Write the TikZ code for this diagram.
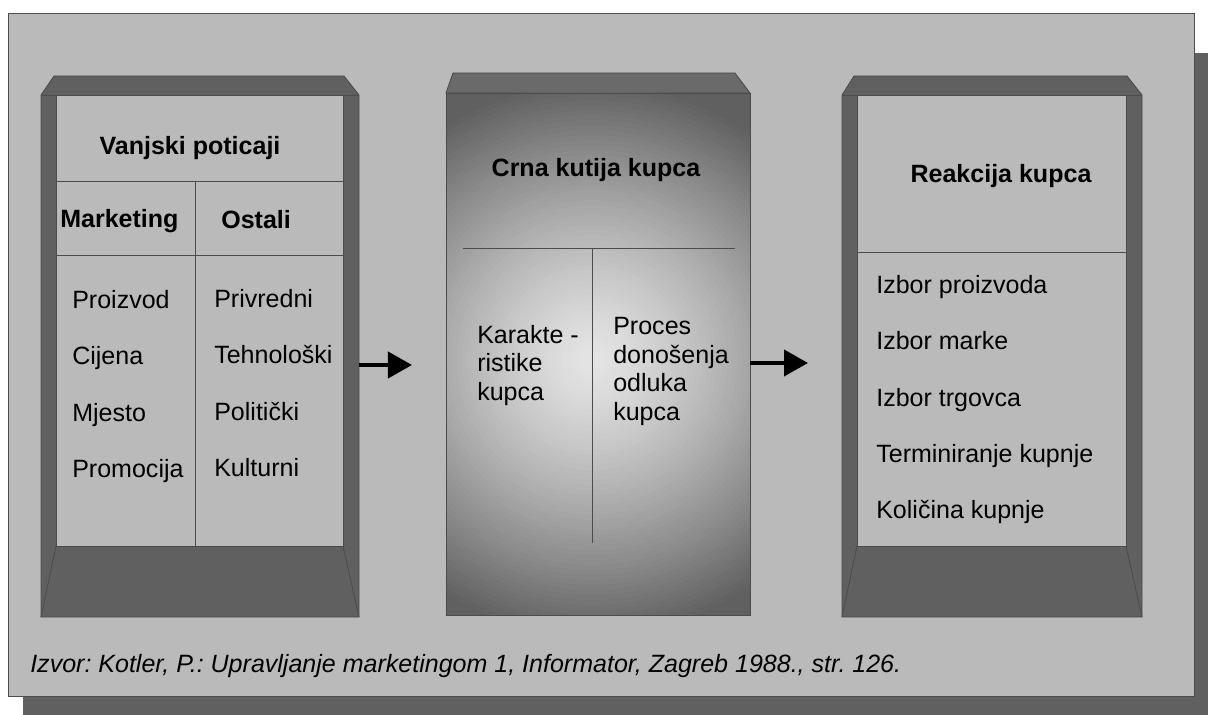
\documentclass[tikz,border=0pt]{standalone}
\usepackage{fontspec}
\setmainfont{Liberation Sans}
\usetikzlibrary{arrows.meta}
\definecolor{pozadina}{HTML}{BABABA}
\definecolor{okvir}{HTML}{606060}
\definecolor{linija}{HTML}{4C4C4C}
\definecolor{svijetla}{HTML}{E8E8E8}
\frenchspacing

\begin{document}
\begin{tikzpicture}[x=0.025cm, y=-0.025cm,
    tekst/.style={font=\fontsize{17.8}{20.3}\selectfont, inner sep=0pt},
    naslov/.style={tekst, font=\bfseries\fontsize{17.8}{20.3}\selectfont},
    stavka/.style={tekst, anchor=base west},
    crta/.style={draw=linija, line width=0.6pt},
    strelica/.style={line width=0.1cm, -{Triangle[length=0.6cm, width=0.65cm]}}]
    \useasboundingbox (0,0) rectangle (1208,715);
    \fill[white] (0,0) rectangle (1208,715);

    % Sjena i ploca
    \fill[okvir] (23,53) rectangle (1208,715);
    \filldraw[fill=pozadina, crta] (8,13) rectangle (1194,696);

    % Vanjski poticaji
    \filldraw[fill=okvir, crta] (54,76) -- (344,76) -- (359,95) -- (359,617) -- (41,617) -- (41,95) -- cycle;
    \filldraw[fill=pozadina, crta] (56,95) rectangle (343,546);
    \draw[crta] (41,95) -- (359,95);
    \draw[crta] (56,546) -- (41,617) (343,546) -- (359,617);
    \draw[crta] (56,181) -- (343,181);
    \draw[crta] (56,255) -- (343,255);
    \draw[crta] (195,181) -- (195,546);
    \node[naslov, anchor=base] (vanjski) at (190,155) {Vanjski poticaji};
    \node[naslov, anchor=base west] (marketing) at (60,228) {Marketing};
    \node[naslov, anchor=base west] (ostali) at (221,229) {Ostali};
    \node[stavka] (proizvod) at (72,308) {Proizvod};
    \node[stavka] (cijena) at (72,364) {Cijena};
    \node[stavka] (mjesto) at (72,421) {Mjesto};
    \node[stavka] (promocija) at (72,477) {Promocija};
    \node[stavka] (privredni) at (214,307) {Privredni};
    \node[stavka] (tehnoloski) at (214,363) {Tehnološki};
    \node[stavka] (politicki) at (214,420) {Politički};
    \node[stavka] (kulturni) at (214,476) {Kulturni};

    % Crna kutija
    \filldraw[fill=okvir!94!white, crta] (453,73) -- (735,73) -- (750,93) -- (446,93) -- cycle;
    \begin{scope}
        \clip (446,93) rectangle (750,615);
        \fill[okvir] (446,93) rectangle (750,615);
        \foreach \i in {0,...,55} {
            \pgfmathsetmacro\r{280-5*\i}
            \pgfmathsetmacro\q{2+98*(\r/280)^1.3}
            \fill[okvir!\q!svijetla] (592,360) circle (\r);
        }
    \end{scope}
    \draw[crta] (446,93) rectangle (750,615);
    \draw[crta] (463,248) -- (735,248);
    \draw[crta] (592,248) -- (592,543);
    \node[naslov, anchor=base] (crna) at (596,177) {Crna kutija kupca};
    \node[tekst, align=left, anchor=north west] (karakteristike) at (477,325) {Karakte -\\ristike\\kupca};
    \node[tekst, align=left, anchor=north west] (proces) at (613,317) {Proces\\donošenja\\odluka\\kupca};

    % Reakcija kupca
    \filldraw[fill=okvir, crta] (854,76) -- (1127,76) -- (1142,95) -- (1142,617) -- (842,617) -- (842,95) -- cycle;
    \filldraw[fill=pozadina, crta] (857,95) rectangle (1126,546);
    \draw[crta] (842,95) -- (1142,95);
    \draw[crta] (857,546) -- (842,617) (1126,546) -- (1142,617);
    \draw[crta] (857,252) -- (1126,252);
    \node[naslov, anchor=base] (reakcija) at (1001,183) {Reakcija kupca};
    \node[stavka] (izborp) at (876,293) {Izbor proizvoda};
    \node[stavka] (izborm) at (876,349) {Izbor marke};
    \node[stavka] (izbort) at (876,406) {Izbor trgovca};
    \node[stavka] (termin) at (876,462) {Terminiranje kupnje};
    \node[stavka] (kolicina) at (876,518) {Količina kupnje};

    % Strelice
    \coordinate (s1) at (359,365);
    \coordinate (e1) at (412,365);
    \coordinate (s2) at (750,363);
    \coordinate (e2) at (808,363);
    \draw[strelica] (s1) -- (e1);
    \draw[strelica] (s2) -- (e2);

    % Izvor
    \node[tekst, font=\itshape\fontsize{17.8}{20.3}\selectfont, anchor=base west] (izvor) at (30,672)
        {Izvor: Kotler, P.: Upravljanje marketingom 1, Informator, Zagreb 1988., str. 126.};
\end{tikzpicture}
\end{document}
